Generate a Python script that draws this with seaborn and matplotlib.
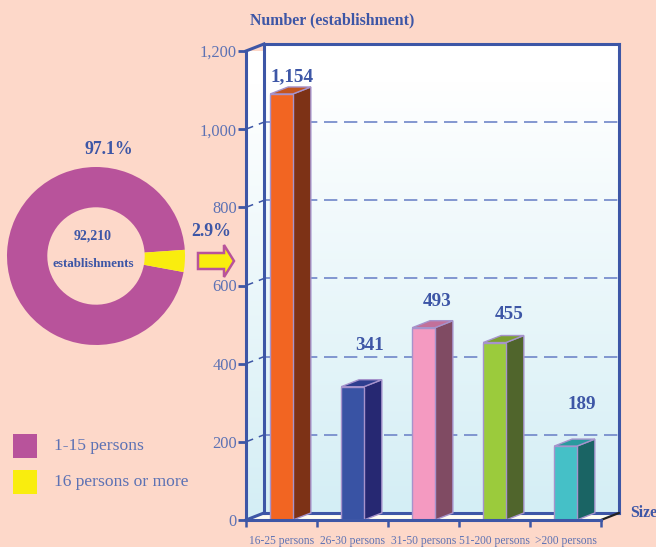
import matplotlib
matplotlib.use('Agg')
import matplotlib.pyplot as plt
import numpy as np
import pandas as pd
import seaborn as sns
from matplotlib.patches import Polygon, Rectangle

# Data
size_groups = ['16-25 persons', '26-30 persons', '31-50 persons', '51-200 persons', '>200 persons']
# heights as drawn in the picture (first bar stands lower than its 1,154 label)
bar_heights = [1090, 341, 492, 454, 189]
bar_labels = ['1,154', '341', '493', '455', '189']
y_ticks = [0, 200, 400, 600, 800, 1000, 1200]
y_tick_labels = ['0', '200', '400', '600', '800', '1,000', '1,200']

donut_names = ['1-15 persons', '16 persons or more']
# wedge shares as drawn, the printed text says 97.1 / 2.9
donut_shares = [96.0, 4.0]
donut_labels = ['97.1%', '2.9%']
donut_total = ['92,210', 'establishments']

# Colours
BG = '#fdd8c9'
BLUE = '#3d56a6'
TICK_TXT = '#5d72b4'
GRID = '#6f86c9'
EDGE = '#a693cc'
PURPLE = '#b8539b'
YELLOW = '#f9ed0e'
front_cols = ['#f26522', '#3953a4', '#f49ac1', '#9bcb3c', '#45c0c7']
side_cols = ['#7d3216', '#262872', '#804b63', '#50652c', '#1a6464']
top_cols = ['#c4551f', '#2e3e8f', '#c2709a', '#7ca030', '#2a9a9e']

W, H = 656, 547
sns.set_theme(style='white')
plt.rcParams['font.family'] = ['Liberation Serif', 'DejaVu Serif']

fig = plt.figure(figsize=(W / 100, H / 100), dpi=100, facecolor=BG)

# Bars, axes box is the front of the 3D frame
ax = fig.add_axes([246 / W, 1 - 520 / H, 355 / W, 469 / H])
ax.patch.set_alpha(0)
df = pd.DataFrame({'size': size_groups, 'count': bar_heights})
sns.barplot(data=df, x='size', y='count', hue='size', order=size_groups, hue_order=size_groups,
            palette=front_cols, width=0.32, saturation=1, legend=False, ax=ax, zorder=5,
            edgecolor=EDGE, linewidth=1)
bars = sorted(ax.patches, key=lambda p: p.get_x())
ax.set_xlim(-0.5, 4.5)
ax.set_ylim(0, 1200)

# depth of the fake 3D box in data units
dx, dy = 18 / 71, 18
x0, x1 = -0.5, 4.5

# back wall and left wall gradient
grad = np.linspace(0, 1, 256).reshape(-1, 1)
grad = np.clip((grad - 0.08) / 0.92, 0, 1)
cmap = matplotlib.colors.LinearSegmentedColormap.from_list('wall', ['#ffffff', '#d4eef5'])
ax.imshow(grad, cmap=cmap, aspect='auto', extent=(x0 + dx, x1 + dx, dy, 1200 + dy),
          origin='upper', zorder=0, clip_on=False)
side_im = ax.imshow(grad, cmap=cmap, aspect='auto', extent=(x0, x0 + dx, 0, 1200 + dy),
                    origin='upper', zorder=0)
side_poly = Polygon([(x0, 0), (x0 + dx, dy), (x0 + dx, 1200 + dy), (x0, 1200)],
                    transform=ax.transData, fc='none', ec='none')
ax.add_patch(side_poly)
side_im.set_clip_path(side_poly)
ax.set_xlim(x0, x1)
ax.set_ylim(0, 1200)

# floor
ax.add_patch(Polygon([(x0, 0), (x0 + dx, dy), (x1 + dx, dy), (x1, 0)], fc='#fffdf3', ec='none',
                     zorder=1, clip_on=False))

# dashed grid on both walls
for t in y_ticks[1:-1]:
    ax.plot([x0 + dx, x1 + dx], [t + dy, t + dy], color=GRID, lw=1.2, dashes=(8, 4), zorder=2, clip_on=False)
    ax.plot([x0, x0 + dx], [t, t + dy], color=BLUE, lw=1.1, dashes=(5, 4), zorder=2, clip_on=False)

# frame
frame = dict(color=BLUE, lw=2.2, zorder=3, clip_on=False, solid_capstyle='projecting')
ax.plot([x0 + dx, x1 + dx], [1200 + dy, 1200 + dy], **frame)
ax.plot([x0 + dx, x0 + dx], [dy, 1200 + dy], **frame)
ax.plot([x1 + dx, x1 + dx], [dy, 1200 + dy], **frame)
ax.plot([x0 + dx, x1 + dx], [dy, dy], **frame)
ax.plot([x0, x0 + dx], [1200, 1200 + dy], **frame)
ax.plot([x0, x0 + dx], [0, dy], **frame)
ax.plot([x1, x1 + dx], [0, dy], color='#222222', lw=1.6, zorder=3, clip_on=False)

# side and top of each bar, taken from the seaborn patches
for b, side_c, top_c in zip(bars, side_cols, top_cols):
    l, r, h = b.get_x(), b.get_x() + b.get_width(), b.get_height()
    ax.add_patch(Polygon([(r, 0), (r + dx, dy), (r + dx, h + dy), (r, h)], fc=side_c, ec=EDGE, lw=1,
                         zorder=4, clip_on=False))
    ax.add_patch(Polygon([(l, h), (l + dx, h + dy), (r + dx, h + dy), (r, h)], fc=top_c, ec=EDGE, lw=1,
                         zorder=4, clip_on=False))

# value labels
label_shift = [(11, 17), (17, 41), (14, 26), (15, 28), (16, 42)]
for b, txt, shift in zip(bars, bar_labels, label_shift):
    ax.annotate(txt, xy=(b.get_x() + b.get_width() / 2, b.get_height()), xytext=shift,
                textcoords='offset pixels', ha='center', va='center', fontsize=13.8,
                fontweight='bold', color=BLUE, zorder=6)

# axes styling
sns.despine(ax=ax, top=True, right=True)
for s in ['left', 'bottom']:
    ax.spines[s].set_color(BLUE)
    ax.spines[s].set_linewidth(2.2)
    ax.spines[s].set_zorder(7)
ax.set_xlabel('')
ax.set_ylabel('')
ax.set_yticks(y_ticks, y_tick_labels)
ax.tick_params(axis='y', left=True, length=5.5, width=2, color=BLUE, labelsize=11.8,
               labelcolor=TICK_TXT, pad=1)
ax.set_xticks(range(len(size_groups)), size_groups)
ax.tick_params(axis='x', which='major', bottom=False, length=0, labelsize=8.3, labelcolor=TICK_TXT, pad=10.5)
ax.set_xticks(np.arange(x0, x1 + 0.5), minor=True)
ax.tick_params(axis='x', which='minor', bottom=True, length=5, width=1.8, color=BLUE)

# Donut
r_px = 89
pie_ax = fig.add_axes([(96 - r_px) / W, 1 - (256 + r_px) / H, 2 * r_px / W, 2 * r_px / H])
pie_ax.pie(donut_shares, colors=[PURPLE, YELLOW], startangle=4, counterclock=True, radius=1,
           wedgeprops=dict(width=1 - 48.7 / 89, linewidth=0))
pie_ax.set_xlim(-1, 1)
pie_ax.set_ylim(-1, 1)

# Overlay in pixel coordinates for the free text, arrow and legend
ov = fig.add_axes([0, 0, 1, 1])
ov.set_xlim(0, W)
ov.set_ylim(H, 0)
ov.axis('off')
ov.patch.set_alpha(0)

ov.text(332, 20, 'Number (establishment)', ha='center', va='center', fontsize=11.4, fontweight='bold', color=BLUE)
ov.text(630, 513, 'Size', ha='left', va='center', fontsize=11.4, fontweight='bold', color=BLUE)
ov.text(109, 150, donut_labels[0], ha='center', va='center', fontsize=12.8, fontweight='bold', color=BLUE)
ov.text(211, 231, donut_labels[1], ha='center', va='center', fontsize=12.8, fontweight='bold', color=BLUE)
ov.text(93, 236, donut_total[0], ha='center', va='center', fontsize=10, fontweight='bold', color=BLUE)
ov.text(93, 264, donut_total[1], ha='center', va='center', fontsize=9.4, fontweight='bold', color=BLUE)

ov.add_patch(Polygon([(198, 253), (224, 253), (224, 245), (234, 261), (224, 277), (224, 269), (198, 269)],
                     fc=YELLOW, ec=PURPLE, lw=1.8, joinstyle='miter'))

for y, col, name in zip([434, 470], [PURPLE, YELLOW], donut_names):
    ov.add_patch(Rectangle((13, y), 24, 24, fc=col, ec='none'))
    ov.text(54, y + 12, name, ha='left', va='center', fontsize=12.6, color=TICK_TXT)

fig.savefig('out.png', dpi=100, facecolor=BG)
